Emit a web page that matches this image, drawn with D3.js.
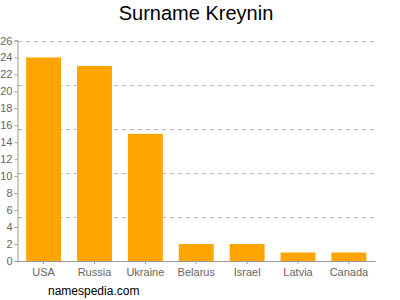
<!DOCTYPE html>
<html>
<head>
<meta charset="utf-8">
<script src="https://cdn.jsdelivr.net/npm/d3@7"></script>
<style>
  body { margin: 0; background: #fff; }
  text { font-family: "Liberation Sans", Arial, sans-serif; }
</style>
</head>
<body>
<svg id="chart" width="400" height="300"></svg>
<script>
const countries = ["USA", "Russia", "Ukraine", "Belarus", "Israel", "Latvia", "Canada"];
const counts = [24, 23, 15, 2, 2, 1, 1];
const yTicks = d3.range(0, 27, 2);
const gridValues = [5.2, 10.4, 15.6, 20.8, 26];

const svg = d3.select("#chart");
const plotLeft = 17.5, plotRight = 375, plotTop = 40.5, plotBottom = 261;

const x = d3.scaleBand()
  .domain(countries)
  .range([plotLeft, plotRight])
  .paddingInner(0.314)
  .paddingOuter(0.17);

const y = d3.scaleLinear().domain([0, 26]).range([plotBottom, plotTop]);

// dashed grid
svg.append("g")
  .selectAll("line")
  .data(gridValues)
  .enter()
  .append("line")
  .attr("x1", plotLeft)
  .attr("x2", plotRight)
  .attr("y1", d => Math.round(y(d)) + 0.5)
  .attr("y2", d => Math.round(y(d)) + 0.5)
  .attr("stroke", "#bbb")
  .attr("stroke-dasharray", "5,3");

// bars
svg.append("g")
  .selectAll("rect")
  .data(countries)
  .enter()
  .append("rect")
  .attr("x", d => x(d))
  .attr("width", x.bandwidth())
  .attr("y", (d, i) => y(counts[i]))
  .attr("height", (d, i) => plotBottom - y(counts[i]))
  .attr("fill", "#ffa500");

// y axis
const yAxis = svg.append("g")
  .attr("transform", `translate(${plotLeft},0)`)
  .call(d3.axisLeft(y).tickValues(yTicks).tickSize(3).tickPadding(2));
yAxis.select(".domain").attr("stroke", "#999");
yAxis.selectAll(".tick line").attr("stroke", "#999");
yAxis.selectAll(".tick text")
  .attr("fill", "#666")
  .style("font-size", "11px")
  .style("font-family", "Liberation Sans, Arial, sans-serif");

// x axis
const xAxis = svg.append("g")
  .attr("transform", `translate(0,${plotBottom})`)
  .call(d3.axisBottom(x).tickSize(3).tickSizeOuter(0).tickPadding(4));
xAxis.select(".domain").attr("stroke", "#999");
xAxis.selectAll(".tick line").attr("stroke", "#999");
xAxis.selectAll(".tick text")
  .attr("fill", "#666")
  .style("font-size", "11px")
  .style("font-family", "Liberation Sans, Arial, sans-serif");

svg.append("text")
  .attr("x", 196)
  .attr("y", 20)
  .attr("text-anchor", "middle")
  .style("font-size", "20px")
  .attr("fill", "#000")
  .text("Surname Kreynin");

svg.append("text")
  .attr("x", 48)
  .attr("y", 295)
  .style("font-size", "12px")
  .attr("fill", "#000")
  .text("namespedia.com");
</script>
</body>
</html>
